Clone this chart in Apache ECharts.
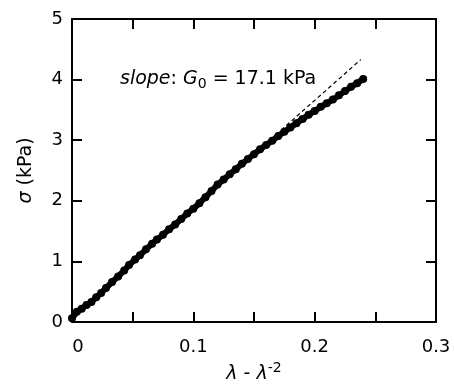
<!DOCTYPE html>
<html>
<head>
<meta charset="utf-8">
<script src="https://cdn.jsdelivr.net/npm/echarts@6/dist/echarts.min.js"></script>
<style>
html,body{margin:0;padding:0;background:#fff;}
#c{width:454px;height:385px;}
</style>
</head>
<body>
<div id="c"></div>
<script>
// measured data: x = lambda - lambda^-2, y = sigma (kPa)
var strainX = [0.000,0.004,0.008,0.012,0.016,0.020,0.024,0.028,0.033,0.038,0.043,0.047,0.052,0.056,0.061,0.066,0.070,0.075,0.080,0.085,0.090,0.095,0.100,0.105,0.110,0.115,0.120,0.125,0.130,0.135,0.140,0.145,0.150,0.155,0.160,0.165,0.170,0.175,0.180,0.185,0.190,0.195,0.200,0.205,0.210,0.215,0.220,0.225,0.230,0.235,0.240];
var stressY = [0.06,0.17,0.22,0.28,0.33,0.41,0.48,0.56,0.66,0.75,0.85,0.94,1.03,1.10,1.20,1.29,1.36,1.44,1.53,1.61,1.70,1.79,1.87,1.96,2.06,2.16,2.27,2.35,2.44,2.52,2.61,2.69,2.77,2.85,2.92,2.99,3.07,3.14,3.21,3.28,3.35,3.42,3.48,3.55,3.61,3.67,3.74,3.81,3.88,3.94,4.01];
// fitted initial slope line (dashed)
var fitX = [0.168, 0.238];
var fitY = [3.09, 4.33];
var xTicks = [0, 0.1, 0.2, 0.3];
var yTicks = [0, 1, 2, 3, 4, 5];

var font = '"DejaVu Sans", Arial, sans-serif';
var chart = echarts.init(document.getElementById('c'), null, {renderer:'canvas'});

function pairs(xs, ys){ return xs.map(function(x,i){ return [x, ys[i]]; }); }
function xFmt(v){
  for (var i=0;i<xTicks.length;i++){
    if (Math.abs(v-xTicks[i])<1e-9) return xTicks[i] === 0 ? '{z|0}' : String(xTicks[i]);
  }
  return '';
}
function yFmt(v){
  for (var i=0;i<yTicks.length;i++){ if (Math.abs(v-yTicks[i])<1e-9) return String(yTicks[i]); }
  return '';
}
var axisLine = {show:true, onZero:false, lineStyle:{color:'#000', width:2}};
var axisTick = {show:true, inside:true, length:10, lineStyle:{color:'#000', width:2}};

chart.setOption({
  animation:false,
  backgroundColor:'#fff',
  grid:{left:72, right:18, top:19, bottom:63, containLabel:false, outerBoundsMode:'none'},
  xAxis:[{
    type:'value', min:0, max:0.3, interval:0.05, position:'bottom',
    axisLine:axisLine, axisTick:axisTick, splitLine:{show:false},
    axisLabel:{formatter:xFmt, color:'#000', fontSize:18, fontFamily:font, margin:16, showMinLabel:true, showMaxLabel:true,
      rich:{z:{fontSize:18, fontFamily:font, color:'#000', padding:[0,0,0,12]}}},
    name:'{i|λ} - {i|λ}{sup|-2}', nameLocation:'middle', nameGap:39,
    nameTextStyle:{color:'#000', fontSize:19, fontFamily:font,
      rich:{i:{fontStyle:'italic', fontSize:19, fontFamily:font, color:'#000'},
            sup:{fontSize:14, fontFamily:font, color:'#000', padding:[0,0,12,0]}}}
  },{
    type:'value', min:0, max:0.3, interval:0.05, position:'top',
    axisLine:axisLine, axisTick:axisTick, axisLabel:{show:false}, splitLine:{show:false}
  }],
  yAxis:[{
    type:'value', min:0, max:5, interval:1, position:'left',
    axisLine:axisLine, axisTick:axisTick, splitLine:{show:false},
    axisLabel:{formatter:yFmt, color:'#000', fontSize:18, fontFamily:font, margin:9},
    name:'{i|σ} (kPa)', nameLocation:'middle', nameGap:36, nameRotate:90,
    nameTextStyle:{color:'#000', fontSize:19, fontFamily:font,
      rich:{i:{fontStyle:'italic', fontSize:19, fontFamily:font, color:'#000'}}}
  },{
    type:'value', min:0, max:5, interval:1, position:'right',
    axisLine:axisLine, axisTick:axisTick, axisLabel:{show:false}, splitLine:{show:false}
  }],
  series:[{
    type:'line', data:pairs(fitX, fitY), symbol:'none',
    lineStyle:{color:'#000', width:1.2, type:[4,3]}, z:2
  },{
    type:'line', data:pairs(strainX, stressY), symbol:'circle', symbolSize:8,
    itemStyle:{color:'#000'}, lineStyle:{color:'#000', width:6}, z:3
  }],
  graphic:[{
    type:'text', left:120, top:70,
    style:{
      text:'{i|slope}: {i|G}{sub|0} = 17.1 kPa',
      font:'19px ' + font, fill:'#000',
      rich:{i:{fontStyle:'italic', fontSize:19, fontFamily:font, fill:'#000'},
            sub:{fontSize:14, fontFamily:font, fill:'#000', padding:[9,0,0,0]}}
    }
  }]
});
</script>
</body>
</html>
